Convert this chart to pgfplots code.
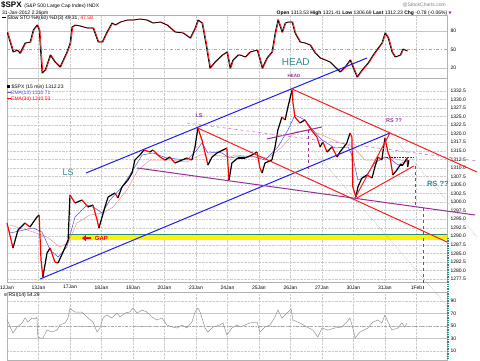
\documentclass[border=0pt]{standalone}
\usepackage{pgfplots}
\pgfplotsset{compat=1.18}
\usepackage{fontspec}
\setmainfont{Liberation Sans}
\newfontfamily\dejavu{DejaVu Sans}
\usetikzlibrary{arrows.meta}
\definecolor{tealc}{RGB}{46,139,139}
\definecolor{purp}{RGB}{150,50,150}
\definecolor{lpurp}{RGB}{200,120,210}
\definecolor{bl}{RGB}{30,30,240}
\definecolor{rd}{RGB}{250,30,30}
\definecolor{ema13}{RGB}{80,80,210}
\definecolor{ema34}{RGB}{240,150,150}
\definecolor{gapline}{RGB}{40,140,130}
\newcommand{\fs}{\fontsize{5}{6}\selectfont}
\pgfplotsset{
 panel/.style={scale only axis, width=440pt, xmin=0, xmax=13.97,
   anchor=south west,
   axis line style={draw=gray!60, line width=0.4pt},
   tick style={draw=none},
   xtick={0,...,13}, xmajorgrids,
   grid style={gray!40, densely dotted, line width=0.4pt},
   xticklabels={}, yticklabel pos=right,
   /pgf/number format/assume math mode=true,
   yticklabel style={font=\fs},
   xticklabel style={font=\fs}},
}
\begin{document}
\begin{tikzpicture}
\useasboundingbox (0,0) rectangle (480pt,360pt);
\fill[white] (0,0) rectangle (480pt,360pt);
% header
\node[anchor=west, inner sep=0pt] at (1pt,354.5pt) {{\fontsize{8}{9}\selectfont\bfseries \$SPX} {\fs (S\&P 500 Large Cap Index) INDX}};
\node[anchor=west, inner sep=0pt] at (2pt,347pt) {\fs 31-Jan-2012 2:26pm};
\node[anchor=east, inner sep=0pt, text=gray] at (446pt,354.5pt) {\fs @StockCharts.com};
\node[anchor=east, inner sep=0pt] at (452pt,347pt) {\fs \textbf{Open} 1313.53 \textbf{High} 1321.41 \textbf{Low} 1306.69 \textbf{Last} 1312.23 \textbf{Chg} -0.78 (-0.06\%) {\dejavu\color{purp}\fontsize{4}{5}\selectfont ▼}};
% ---------------- STO panel
\begin{axis}[panel, at={(7pt,282pt)}, height=63pt, ymin=3.8, ymax=106, ytick={20,50,80}]
\addplot[gray!45, line width=1pt] coordinates {(0,80) (13.97,80)};
\addplot[gray!45, line width=1pt] coordinates {(0,20) (13.97,20)};
\addplot[gray!70, dash dot, line width=0.4pt] coordinates {(0,50) (13.97,50)};
\addplot[red, line width=0.7pt, xshift=0.9pt] coordinates {(0.00,78.4)(0.19,46)(0.32,49)(0.41,44)(0.57,60.5)(0.73,62)(0.83,81.6)(0.95,89.7)(1.02,81.6)(1.11,12)(1.21,16.8)(1.37,41)(1.52,29.7)(1.68,21.6)(1.90,46)(2.00,60.5)(2.06,86.5)(2.16,89.7)(2.32,88.1)(2.54,84.9)(2.73,84.9)(2.89,62.2)(3.02,62.2)(3.17,78.4)(3.33,93)(3.43,89.7)(3.59,94.6)(3.81,97.8)(4.00,97.8)(4.22,99.5)(4.44,97.8)(4.63,93)(4.86,94.6)(5.08,89.7)(5.33,78.4)(5.59,76.8)(5.81,68.6)(5.97,84.9)(6.06,97.8)(6.19,93)(6.29,65.4)(6.44,20)(6.60,29.7)(6.83,41)(6.98,46)(7.08,20)(7.17,33)(7.33,41)(7.40,41)(7.56,37.8)(7.71,46)(7.94,49.2)(8.10,20)(8.25,36.2)(8.41,46)(8.51,76.8)(8.60,97.8)(8.73,78.4)(8.83,93)(8.92,94.6)(9.05,94.6)(9.14,76.8)(9.30,62.2)(9.46,60.5)(9.62,57.3)(9.78,44.3)(9.94,36.2)(10.10,33)(10.25,29.7)(10.41,21.6)(10.57,13.5)(10.73,21.6)(10.89,33)(10.98,21.6)(11.11,5.4)(11.27,16.8)(11.46,28.1)(11.62,41)(11.78,52.4)(11.90,60.5)(12.00,76.8)(12.10,68.6)(12.22,46)(12.32,37.8)(12.48,41)(12.57,50.8)(12.70,47.6)};
\addplot[black, line width=0.7pt] coordinates {(0.00,78.4)(0.19,46)(0.32,49)(0.41,44)(0.57,60.5)(0.73,62)(0.83,81.6)(0.95,89.7)(1.02,81.6)(1.11,12)(1.21,16.8)(1.37,41)(1.52,29.7)(1.68,21.6)(1.90,46)(2.00,60.5)(2.06,86.5)(2.16,89.7)(2.32,88.1)(2.54,84.9)(2.73,84.9)(2.89,62.2)(3.02,62.2)(3.17,78.4)(3.33,93)(3.43,89.7)(3.59,94.6)(3.81,97.8)(4.00,97.8)(4.22,99.5)(4.44,97.8)(4.63,93)(4.86,94.6)(5.08,89.7)(5.33,78.4)(5.59,76.8)(5.81,68.6)(5.97,84.9)(6.06,97.8)(6.19,93)(6.29,65.4)(6.44,20)(6.60,29.7)(6.83,41)(6.98,46)(7.08,20)(7.17,33)(7.33,41)(7.40,41)(7.56,37.8)(7.71,46)(7.94,49.2)(8.10,20)(8.25,36.2)(8.41,46)(8.51,76.8)(8.60,97.8)(8.73,78.4)(8.83,93)(8.92,94.6)(9.05,94.6)(9.14,76.8)(9.30,62.2)(9.46,60.5)(9.62,57.3)(9.78,44.3)(9.94,36.2)(10.10,33)(10.25,29.7)(10.41,21.6)(10.57,13.5)(10.73,21.6)(10.89,33)(10.98,21.6)(11.11,5.4)(11.27,16.8)(11.46,28.1)(11.62,41)(11.78,52.4)(11.90,60.5)(12.00,76.8)(12.10,68.6)(12.22,46)(12.32,37.8)(12.48,41)(12.57,50.8)(12.70,47.6)};
\end{axis}
\node[anchor=west, inner sep=0pt] at (2pt,342pt) {\fs\rule[1.5pt]{4pt}{0.6pt} Slow STO \%K(60) \%D(3) 49.31, {\color{red}47.58}};
% ---------------- RSI panel
\begin{axis}[panel, at={(7pt,0pt)}, height=68pt, ymin=-4.4, ymax=104.4, ytick={10,30,50,70,90}, ymajorgrids]
\addplot[gray!45, line width=1pt] coordinates {(0,70) (13.97,70)};
\addplot[gray!45, line width=1pt] coordinates {(0,30) (13.97,30)};
\addplot[gray!70, dash dot, line width=0.4pt] coordinates {(0,50) (13.97,50)};
\addplot[gray!85, line width=0.5pt] coordinates {(0.00,61.2)(0.10,48.4)(0.19,38.8)(0.32,48.4)(0.48,54.8)(0.57,62.8)(0.67,56.4)(0.79,62.8)(0.89,61.2)(0.95,64.4)(0.98,32.4)(1.05,30.8)(1.14,30.8)(1.27,43.6)(1.43,40.4)(1.59,43.6)(1.68,51.6)(1.84,54.8)(1.94,62.8)(2.00,78.8)(2.06,75.6)(2.16,72.4)(2.38,72.4)(2.57,62.8)(2.73,56.4)(2.86,40.4)(2.95,46.8)(3.05,62.8)(3.17,67.6)(3.33,62.8)(3.49,70.8)(3.59,64.4)(3.75,70.8)(3.90,72.4)(4.00,78.8)(4.13,70.8)(4.29,75.6)(4.44,72.4)(4.60,64.4)(4.76,59.6)(4.92,62.8)(5.08,51.6)(5.24,48.4)(5.40,46.8)(5.56,51.6)(5.71,46.8)(5.87,56.4)(5.97,72.4)(6.06,78.8)(6.13,72.4)(6.29,46.8)(6.38,40.4)(6.54,48.4)(6.76,51.6)(6.86,54.8)(6.98,35.6)(7.14,46.8)(7.30,51.6)(7.40,48.4)(7.56,51.6)(7.71,54.8)(7.94,56.4)(8.03,40.4)(8.19,48.4)(8.35,51.6)(8.51,64.4)(8.60,75.6)(8.73,62.8)(8.89,70.8)(9.02,77.2)(9.08,59.6)(9.30,54.8)(9.52,48.4)(9.71,43.6)(9.87,32.4)(10.00,46.8)(10.19,43.6)(10.41,46.8)(10.63,48.4)(10.79,56.4)(10.89,62.8)(10.98,46.8)(11.05,30.8)(11.21,40.4)(11.46,46.8)(11.62,56.4)(11.78,59.6)(11.90,54.8)(12.00,67.6)(12.10,56.4)(12.22,43.6)(12.41,46.8)(12.54,54.8)(12.63,48.4)(12.70,54.8)};
\end{axis}
\node[anchor=west, inner sep=0pt] at (4pt,65pt) {\fs{\color{gray!70}\rule{3pt}{3pt}} RSI(14) 54.29};
% ---------------- Price panel
\begin{axis}[panel, at={(7pt,78pt)}, height=204pt, ymin=1276.62, ymax=1336.3,
  ytick={1277.5,1280,1282.5,1285,1287.5,1290,1292.5,1295,1297.5,1300,1302.5,1305,1307.5,1310,1312.5,1315,1317.5,1320,1322.5,1325,1327.5,1330,1332.5},
  ymajorgrids,
  yticklabel style={/pgf/number format/.cd, fixed, fixed zerofill, precision=1, 1000 sep={}},
  xticklabels={12Jan,13Jan,17Jan,18Jan,19Jan,20Jan,23Jan,24Jan,25Jan,26Jan,27Jan,30Jan,31Jan,1Feb},
  clip=false]
% gap band
\addplot[yellow, line width=4.5pt] coordinates {(1.94,1289.6) (13.97,1289.6)};
\addplot[gapline, line width=1.3pt] coordinates {(1.94,1290.5) (13.97,1290.5)};
% EMAs
\addplot[ema34, line width=0.5pt] coordinates {(0.10,1293.30)(0.83,1291.25)(1.27,1289.78)(1.68,1286.86)(1.94,1288.03)(2.22,1293.88)(2.63,1296.22)(3.05,1296.81)(3.37,1298.56)(3.81,1303.54)(4.16,1309.39)(4.54,1312.31)(5.17,1312.31)(5.71,1311.73)(6.13,1313.78)(6.54,1313.78)(7.08,1313.19)(7.24,1313.78)(7.97,1313.19)(8.29,1312.90)(8.73,1316.12)(9.14,1320.50)(9.56,1321.09)(10.00,1319.63)(10.51,1317.58)(10.98,1316.12)(11.37,1312.31)(11.78,1312.31)(12.10,1313.19)(12.73,1311.73)};
\addplot[ema13, line width=0.5pt] coordinates {(0.10,1290.96)(0.83,1292.42)(1.11,1291.25)(1.37,1285.98)(1.62,1283.93)(1.90,1286.86)(2.16,1295.64)(2.54,1299.15)(2.79,1298.27)(3.02,1296.81)(3.27,1300.61)(3.65,1304.41)(4.00,1309.39)(4.29,1313.78)(4.63,1314.36)(5.08,1312.90)(5.71,1312.31)(6.03,1315.24)(6.19,1317.29)(6.38,1314.36)(6.76,1314.65)(7.08,1312.90)(7.24,1313.19)(7.87,1313.19)(8.19,1312.31)(8.60,1316.12)(8.92,1321.09)(9.14,1325.48)(9.46,1324.02)(9.71,1321.09)(10.00,1318.16)(10.41,1315.82)(10.83,1316.12)(10.98,1313.19)(11.14,1306.46)(11.37,1307.34)(11.68,1311.43)(12.00,1313.19)(12.22,1312.31)(12.41,1310.85)(12.73,1312.31)};
% price
\addplot[mesh, shader=flat corner, point meta=explicit, point meta min=0, point meta max=1, colormap={br}{color=(black) color=(red)}, line width=1.2pt] table[meta=m] {
x y m
0.00 1293.88 1
0.19 1286.57 0
0.35 1291.83 0
0.57 1293.88 1
0.73 1292.71 0
0.95 1295.64 0
1.02 1296.22 1
1.08 1283.06 1
1.14 1278.08 0
1.27 1285.10 0
1.37 1286.57 1
1.52 1282.47 1
1.62 1282.18 0
1.78 1285.40 0
1.94 1288.91 0
2.00 1302.07 1
2.16 1299.73 0
2.38 1300.61 1
2.57 1298.56 0
2.73 1299.15 1
2.86 1294.76 1
2.92 1292.42 0
3.02 1295.64 0
3.11 1298.56 0
3.21 1301.49 0
3.43 1302.66 1
3.52 1301.19 0
3.65 1304.41 0
3.84 1306.46 0
3.97 1308.51 0
4.06 1312.31 0
4.22 1313.78 0
4.35 1315.24 1
4.54 1314.65 0
4.63 1315.24 1
4.86 1313.19 1
5.02 1312.31 0
5.17 1313.19 1
5.33 1311.43 0
5.56 1312.31 0
5.71 1312.90 1
5.87 1312.31 0
5.97 1316.12 0
6.06 1321.67 1
6.19 1318.16 1
6.29 1314.36 1
6.38 1310.85 0
6.51 1313.19 0
6.67 1314.36 0
6.86 1315.24 0
6.98 1315.82 1
7.05 1306.46 0
7.14 1311.43 0
7.33 1312.90 0
7.56 1312.90 0
7.78 1313.78 0
7.94 1314.65 1
8.03 1309.97 1
8.10 1308.51 0
8.19 1311.43 0
8.41 1312.31 0
8.51 1316.12 0
8.60 1321.09 0
8.73 1324.89 1
8.83 1324.02 0
8.92 1327.82 0
9.05 1332.79 1
9.08 1328.99 1
9.14 1324.89 1
9.30 1323.14 0
9.46 1324.02 1
9.56 1322.55 1
9.71 1320.50 1
9.84 1319.04 1
9.94 1316.12 0
10.03 1317.58 1
10.16 1314.65 0
10.32 1316.12 1
10.48 1313.19 0
10.57 1314.65 0
10.67 1315.82 0
10.79 1317.29 0
10.89 1320.21 1
10.95 1319.04 1
10.98 1304.41 1
11.08 1301.49 0
11.14 1304.41 0
11.27 1307.05 0
11.43 1307.92 1
11.59 1307.05 0
11.68 1310.26 0
11.78 1313.19 1
11.90 1312.31 0
12.00 1318.75 1
12.10 1314.36 1
12.16 1313.19 1
12.25 1307.92 0
12.38 1309.39 0
12.48 1310.85 0
12.57 1310.85 0
12.70 1312.90 1
12.72 1310.26 0
12.76 1312.23 0
};
% trend lines
\addplot[bl, line width=1pt] coordinates {(2.51,1308.51) (11.43,1342.15)};
\addplot[bl, line width=1pt] coordinates {(1.05,1277.5) (12.16,1320.21)};
\addplot[rd, line width=1pt] coordinates {(6.06,1321.67) (13.97,1288.32)};
\addplot[rd, line width=1pt] coordinates {(9.05,1333.09) (14.92,1308.80)};
\addplot[rd, line width=1pt] coordinates {(11.05,1301.19) (12.16,1320.21)};
\addplot[rd, line width=1pt] coordinates {(11.05,1300.90) (12.92,1310.56)};
\addplot[rd, dashed, line width=0.6pt] coordinates {(12.95,1310.56) (12.95,1298.56)};
\addplot[purp, line width=1pt] coordinates {(4.13,1309.97) (14.86,1296.22)};
\addplot[purp, line width=1pt] coordinates {(8.25,1318.46) (10.00,1321.97)};
\addplot[lpurp, dashed, line width=0.6pt] coordinates {(5.71,1323.14) (14.92,1312.02)};
\addplot[purp, dashed, line width=0.6pt] coordinates {(9.56,1321.09) (9.56,1308.80)};
\addplot[purp, dashed, line width=0.8pt] coordinates {(13.21,1298.27) (13.21,1273.7)};
\addplot[bl, densely dotted, line width=0.6pt] coordinates {(12.03,1313.19) (12.90,1313.19)};
\addplot[gray!70, densely dotted, line width=0.5pt] coordinates {(9.71,1315.24) (14.00,1269.3)};
\addplot[gray!70, densely dotted, line width=0.5pt] coordinates {(12.16,1320.21) (14.92,1289.78)};
\addplot[gapline, densely dotted, line width=1.4pt] coordinates {(14.0,1289.5) (14.0,1253.8)};
% labels
\node[text=tealc, font=\fontsize{9}{10}\selectfont] at (axis cs:1.94,1308.8) {LS};
\node[text=tealc, font=\fontsize{10}{11}\selectfont] at (axis cs:9.17,1340.98) {HEAD};
\node[text=purp, font=\fontsize{4.5}{5}\selectfont\bfseries] at (axis cs:9.11,1336.9) {HEAD};
\node[text=purp, font=\fontsize{5.5}{6}\selectfont\bfseries] at (axis cs:6.10,1325.19) {LS};
\node[text=purp, font=\fontsize{5.5}{6}\selectfont\bfseries] at (axis cs:12.29,1323.72) {RS ??};
\node[text=tealc, font=\fontsize{7.5}{8}\selectfont\bfseries] at (axis cs:13.68,1305.29) {RS ??};
\node[text=red, font=\fontsize{6}{7}\selectfont\bfseries] at (axis cs:3.0,1289.45) {GAP};
\draw[red, line width=2.2pt, -{Triangle[length=4pt,width=6pt]}] (axis cs:2.68,1289.45) -- (axis cs:2.38,1289.45);
\end{axis}
% price legend
\node[anchor=west, inner sep=0pt] at (7pt,273pt) {\fs{\rule{3pt}{3pt}} \$SPX (15 min) 1312.23};
\node[anchor=west, inner sep=0pt, text=ema13] at (7pt,267pt) {\fs\rule[1.5pt]{4pt}{0.6pt}EMA(13) 1310.71};
\node[anchor=west, inner sep=0pt, text=red] at (7pt,261pt) {\fs\rule[1.5pt]{4pt}{0.6pt}EMA(34) 1310.53};
\end{tikzpicture}
\end{document}
